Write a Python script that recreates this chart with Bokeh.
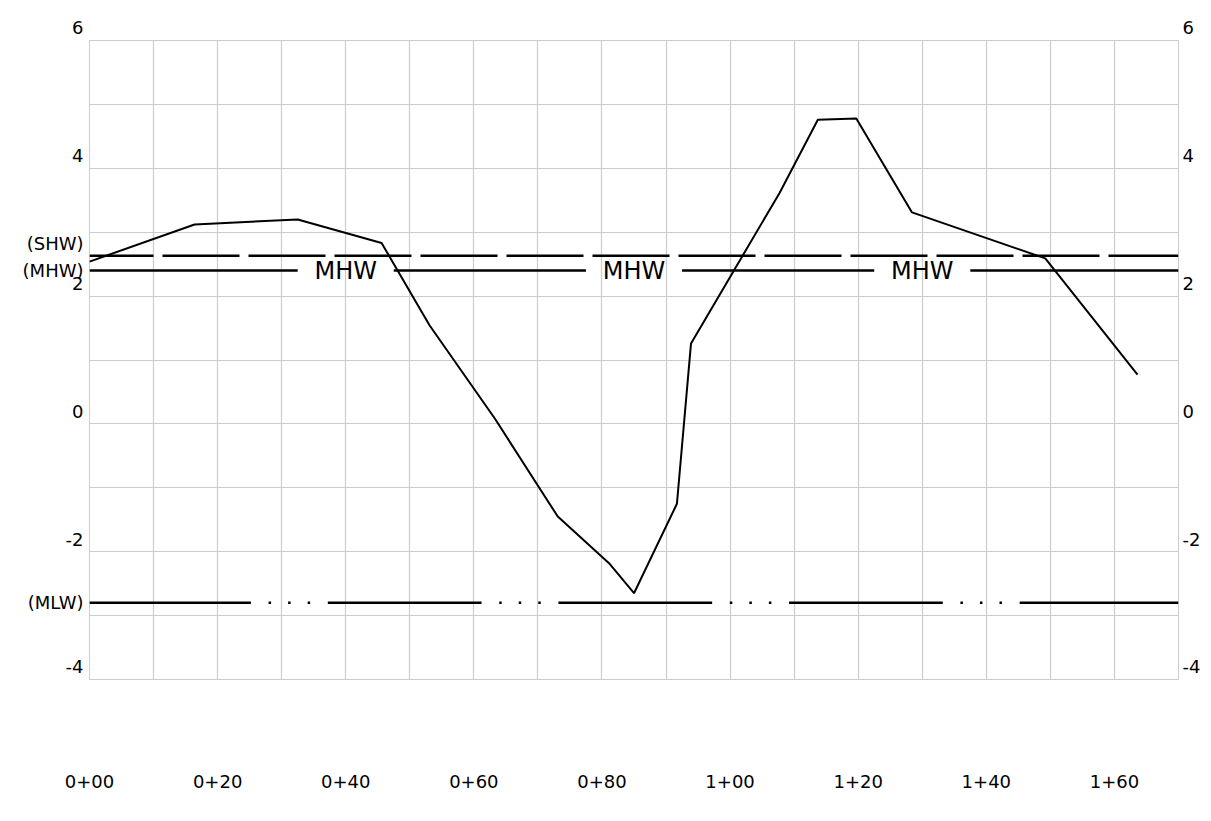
from bokeh.plotting import figure
from bokeh.models import FixedTicker, Range1d, LinearAxis
from bokeh.core.properties import value
from bokeh.embed import file_html
from bokeh.resources import INLINE

# ---- data ----
station = [0.0, 16.4, 32.5, 45.6, 53.1, 63.3, 73.1, 81.1, 85.0, 91.7, 93.9,
           107.7, 113.7, 119.7, 128.4, 149.2, 163.6]
elevation = [2.54, 3.12, 3.20, 2.83, 1.54, 0.08, -1.45, -2.18, -2.65, -1.25, 1.26,
             3.61, 4.76, 4.78, 3.31, 2.59, 0.77]

SHW = 2.63
MHW = 2.40
MLW = -2.80
level_values = [SHW, MHW, MLW]
level_names = ["(SHW)", "(MHW)", "(MLW)"]

x_tick_values = [0, 20, 40, 60, 80, 100, 120, 140, 160]
x_tick_labels = ["0+00", "0+20", "0+40", "0+60", "0+80", "1+00", "1+20", "1+40", "1+60"]
y_tick_values = [-4, -2, 0, 2, 4, 6]
y_tick_labels = ["-4", "-2", "0", "2", "4", "6"]

mhw_label_stations = [40, 85, 130]
mlw_gap_stations = [31.2, 67.2, 103.2, 139.2]

X0, X1 = 0, 170
Y0, Y1 = -4, 6
FONT = "DejaVu Sans"
GRID = "#cccccc"

p = figure(width=1203, height=805, x_range=Range1d(X0, X1), y_range=Range1d(Y0, Y1),
           output_backend="svg", toolbar_location=None,
           min_border_left=89, min_border_right=25, min_border_top=40, min_border_bottom=126,
           x_axis_location="below", y_axis_location="left")
p.outline_line_color = GRID
p.background_fill_color = "white"
p.border_fill_color = "white"

# grids
p.xgrid.ticker = FixedTicker(ticks=list(range(X0, X1 + 1, 10)))
p.ygrid.ticker = FixedTicker(ticks=list(range(Y0, Y1 + 1, 1)))
for g in (p.xgrid, p.ygrid):
    g.grid_line_color = GRID
    g.grid_line_width = 1.2

# axes
p.add_layout(LinearAxis(), "right")
for ax in p.axis:
    ax.axis_line_color = None
    ax.major_tick_line_color = None
    ax.minor_tick_line_color = None
    ax.major_tick_out = 0
    ax.major_tick_in = 0
    ax.minor_tick_out = 0
    ax.minor_tick_in = 0
    ax.major_label_text_font = FONT
    ax.major_label_text_font_size = "18px"
    ax.major_label_text_color = "black"

p.xaxis.ticker = FixedTicker(ticks=x_tick_values)
p.xaxis.major_label_overrides = {v: s for v, s in zip(x_tick_values, x_tick_labels)}
p.xaxis.major_label_standoff = 95

# numeric labels sit a little above their tick (trailing empty line lifts them)
left_ax, right_ax = p.yaxis[0], p.yaxis[1]
left_over = {v: s + "\n" for v, s in zip(y_tick_values, y_tick_labels)}
left_over[SHW] = level_names[0] + "\n"
left_over[MHW] = level_names[1]
left_over[MLW] = level_names[2]
left_ax.ticker = FixedTicker(ticks=y_tick_values + level_values)
left_ax.major_label_overrides = left_over
left_ax.major_label_standoff = 6

right_ax.ticker = FixedTicker(ticks=y_tick_values)
right_ax.major_label_overrides = {v: s + "\n" for v, s in zip(y_tick_values, y_tick_labels)}
right_ax.major_label_standoff = 4

# SHW dashed line
p.line([X0, X1], [SHW, SHW], line_color="black", line_width=2.5,
       line_dash="77 9", line_dash_offset=13)

# MHW line broken by labels
half_gap = 7.5
edges = [X0]
for c in mhw_label_stations:
    edges += [c - half_gap, c + half_gap]
edges.append(X1)
mhw_xs = [[a, b] for a, b in zip(edges[::2], edges[1::2])]
p.multi_line(mhw_xs, [[MHW, MHW]] * len(mhw_xs), line_color="black", line_width=2.5)
p.text(x=mhw_label_stations, y=[MHW] * len(mhw_label_stations),
       text=["MHW"] * len(mhw_label_stations), text_align="center", text_baseline="middle",
       text_font=value(FONT), text_font_size="24px", text_color="black")

# MLW line broken by dot groups
mlw_half_gap = 6.0
edges = [X0]
for c in mlw_gap_stations:
    edges += [c - mlw_half_gap, c + mlw_half_gap]
edges.append(X1)
mlw_xs = [[a, b] for a, b in zip(edges[::2], edges[1::2])]
p.multi_line(mlw_xs, [[MLW, MLW]] * len(mlw_xs), line_color="black", line_width=2.5)
dot_x = []
for c in mlw_gap_stations:
    dot_x += [c - 3.05, c, c + 3.05]
p.scatter(dot_x, [MLW] * len(dot_x), marker="square", size=2.5,
          fill_color="black", line_color=None)

# profile
p.line(station, elevation, line_color="black", line_width=2)

open("out.html", "w").write(file_html(p, INLINE))
